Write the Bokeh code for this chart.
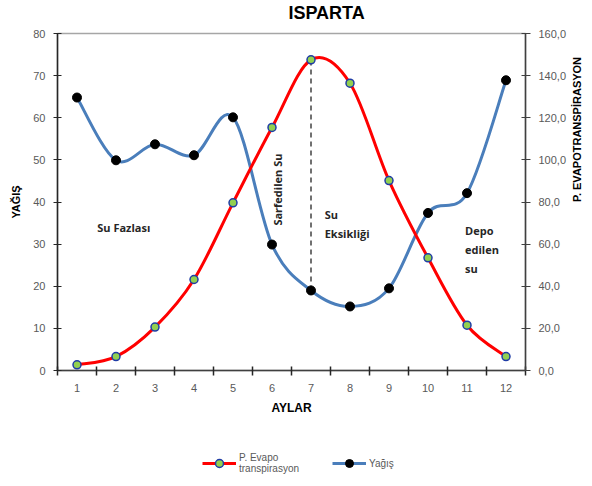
import numpy as np
from bokeh.plotting import figure
from bokeh.layouts import column
from bokeh.models import (Range1d, LinearAxis, FixedTicker, Label, Legend,
                          LegendItem, ColumnDataSource)
from bokeh.embed import file_html
from bokeh.resources import INLINE

# ---------------- data ----------------
months = [1, 2, 3, 4, 5, 6, 7, 8, 9, 10, 11, 12]
month_labels = ["1", "2", "3", "4", "5", "6", "7", "8", "9", "10", "11", "12"]
yagis = [64.8, 49.9, 53.7, 51.1, 60.1, 29.9, 19.0, 15.2, 19.5, 37.4, 42.1, 68.9]
pet = [2.7, 6.6, 20.6, 43.2, 79.6, 115.4, 147.5, 136.4, 90.2, 53.5, 21.5, 6.6]
left_ticks = [0, 10, 20, 30, 40, 50, 60, 70, 80]
right_ticks = [0, 20, 40, 60, 80, 100, 120, 140, 160]
right_tick_labels = ["0,0", "20,0", "40,0", "60,0", "80,0", "100,0", "120,0", "140,0", "160,0"]

TEXT_FONT = "Liberation Sans"
NOTE_FONT = "Open Sans"
RED = "#ff0000"
BLUE = "#4a7ebb"


def smooth_segments(x, y):
    """Bezier control points (Excel-like smoothing) for consecutive points."""
    x = np.asarray(x, float)
    y = np.asarray(y, float)
    xp = np.concatenate([[x[0]], x, [x[-1]]])
    yp = np.concatenate([[y[0]], y, [y[-1]]])
    n = len(x)
    d = dict(x0=[], y0=[], x1=[], y1=[], cx0=[], cy0=[], cx1=[], cy1=[])
    for i in range(n - 1):
        d["x0"].append(x[i]); d["y0"].append(y[i])
        d["x1"].append(x[i + 1]); d["y1"].append(y[i + 1])
        d["cx0"].append(x[i] + (xp[i + 2] - xp[i]) / 6.0)
        d["cy0"].append(y[i] + (yp[i + 2] - yp[i]) / 6.0)
        d["cx1"].append(x[i + 1] - (xp[i + 3] - xp[i + 1]) / 6.0)
        d["cy1"].append(y[i + 1] - (yp[i + 3] - yp[i + 1]) / 6.0)
    return ColumnDataSource(d)


def strip(height, x_range, y_range):
    f = figure(width=592, height=height, x_range=x_range, y_range=y_range, title=None,
               output_backend="svg", toolbar_location=None, min_border=0)
    f.axis.visible = False
    f.grid.visible = False
    f.outline_line_color = None
    f.background_fill_color = "white"
    f.border_fill_color = "white"
    return f


# ---------------- title strip ----------------
p0 = strip(24, Range1d(0.5, 12.5), Range1d(0, 24))
p0.add_layout(Label(x=7.4, y=12, text="ISPARTA", text_align="center", text_baseline="middle",
                    text_font=TEXT_FONT, text_font_size="18px", text_font_style="bold",
                    text_color="#000000"))

# ---------------- main chart ----------------
p = figure(width=592, height=416, x_range=Range1d(0.5, 12.5), y_range=Range1d(0, 80),
           title=None, output_backend="svg", toolbar_location=None,
           min_border_left=57, min_border_right=64, min_border_top=9, min_border_bottom=70)
p.extra_y_ranges = {"right": Range1d(0, 160)}
p.grid.visible = False
p.outline_line_color = "#a6a6a6"
p.outline_line_width = 1.5
p.background_fill_color = "white"
p.border_fill_color = "white"

# x axis
xa = p.xaxis[0]
xa.ticker = FixedTicker(ticks=months, minor_ticks=[m - 0.5 for m in months] + [12.5])
xa.major_label_overrides = {m: lab for m, lab in zip(months, month_labels)}
xa.major_tick_line_color = None
xa.major_tick_in = 0
xa.major_tick_out = 0
xa.minor_tick_in = 4
xa.minor_tick_out = 5
xa.minor_tick_line_color = "#262626"
xa.minor_tick_line_width = 1.5
xa.axis_line_color = "#404040"
xa.axis_line_width = 1.5
xa.major_label_standoff = 8
xa.major_label_text_font = TEXT_FONT
xa.major_label_text_font_size = "11px"
xa.major_label_text_color = "#595959"
xa.axis_label = "AYLAR"
xa.axis_label_text_font = TEXT_FONT
xa.axis_label_text_font_size = "12px"
xa.axis_label_text_font_style = "bold"
xa.axis_label_text_color = "#000000"
xa.axis_label_standoff = 6

# left axis
ya = p.yaxis[0]
ya.ticker = FixedTicker(ticks=left_ticks)
ya.minor_tick_line_color = None
ya.major_tick_in = 4
ya.major_tick_out = 4
ya.major_tick_line_color = "#262626"
ya.axis_line_color = "#262626"
ya.axis_line_width = 1.5
ya.major_label_standoff = 8
ya.major_label_text_font = TEXT_FONT
ya.major_label_text_font_size = "11px"
ya.major_label_text_color = "#595959"
ya.axis_label = "YAĞIŞ"
ya.axis_label_text_font = TEXT_FONT
ya.axis_label_text_font_size = "11px"
ya.axis_label_text_font_style = "bold"
ya.axis_label_text_color = "#000000"
ya.axis_label_standoff = 8

# right axis
ra = LinearAxis(y_range_name="right", ticker=FixedTicker(ticks=right_ticks))
ra.major_label_overrides = {t: lab for t, lab in zip(right_ticks, right_tick_labels)}
ra.minor_tick_line_color = None
ra.major_tick_in = 4
ra.major_tick_out = 5
ra.major_tick_line_color = "#404040"
ra.axis_line_color = "#404040"
ra.axis_line_width = 1.5
ra.major_label_standoff = 8
ra.major_label_text_font = TEXT_FONT
ra.major_label_text_font_size = "11px"
ra.major_label_text_color = "#595959"
ra.axis_label = "P. EVAPOTRANSPİRASYON"
ra.axis_label_text_font = TEXT_FONT
ra.axis_label_text_font_size = "11px"
ra.axis_label_text_font_style = "bold"
ra.axis_label_text_color = "#000000"
ra.axis_label_standoff = 8
try:
    ra.axis_label_orientation = np.pi / 2
except Exception:
    pass
p.add_layout(ra, "right")

# dashed line at month 7 from rainfall point up to PET point (PET scaled to left axis)
scale = (80.0 - 0.0) / (160.0 - 0.0)
p.segment(x0=[months[6]], y0=[yagis[6]], x1=[months[6]], y1=[pet[6] * scale],
          line_color="#404040", line_width=1.5, line_dash="5 4")

# smooth lines
p.bezier(x0="x0", y0="y0", x1="x1", y1="y1", cx0="cx0", cy0="cy0", cx1="cx1", cy1="cy1",
         source=smooth_segments(months, yagis), line_color=BLUE, line_width=3)
p.bezier(x0="x0", y0="y0", x1="x1", y1="y1", cx0="cx0", cy0="cy0", cx1="cx1", cy1="cy1",
         source=smooth_segments(months, pet), line_color=RED, line_width=3,
         y_range_name="right")

# markers
p.scatter(months, yagis, size=9, fill_color="black", line_color="black")
p.scatter(months, pet, size=8, fill_color="#92d050", line_color="#1f3ca6", line_width=1.5,
          y_range_name="right")

# annotations
note = dict(text_font=NOTE_FONT, text_font_size="11px", text_font_style="bold",
            text_color="#262626", text_line_height=1.27)
p.add_layout(Label(x=1.52, y=33.9, text="Su Fazlası", text_align="left",
                   text_baseline="middle", **note))
p.add_layout(Label(x=6.13, y=34.4, text="Sarfedilen Su", angle=np.pi / 2,
                   text_align="left", text_baseline="middle", **note))
p.add_layout(Label(x=7.35, y=38.8, text="Su\nEksikliği", text_align="left",
                   text_baseline="top", **note))
p.add_layout(Label(x=10.95, y=35.0, text="Depo\nedilen\nsu", text_align="left",
                   text_baseline="top", **note))

# ---------------- legend strip (proxy series lie outside this strip's ranges) ----------------
p2 = strip(46, Range1d(0, 1), Range1d(-2, -1))
l_pet = p2.line(months, pet, line_color=RED, line_width=3)
m_pet = p2.scatter(months, pet, size=8, fill_color="#92d050", line_color="#1f3ca6",
                   line_width=1.5)
l_y = p2.line(months, yagis, line_color=BLUE, line_width=3)
m_y = p2.scatter(months, yagis, size=9, fill_color="black", line_color="black")
legend = Legend(items=[LegendItem(label="P. Evapo\ntranspirasyon", renderers=[l_pet, m_pet]),
                       LegendItem(label="Yağış", renderers=[l_y, m_y])],
                orientation="horizontal", location=(145, 12),
                label_text_font=TEXT_FONT, label_text_font_size="10px",
                label_text_line_height=1.35,
                label_text_color="#595959", glyph_width=34, label_standoff=3,
                spacing=33, padding=2, margin=0, border_line_color=None,
                background_fill_alpha=0)
p2.add_layout(legend, "center")

open("out.html", "w").write(file_html(column(p0, p, p2, spacing=0), INLINE))
